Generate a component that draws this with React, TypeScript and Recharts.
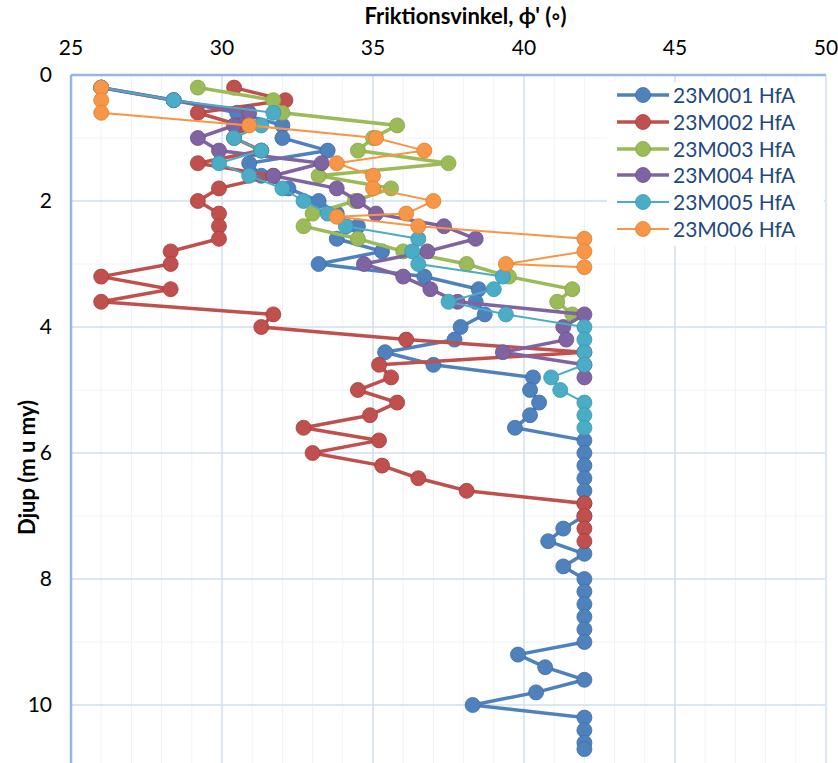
import { ScatterChart, Scatter, XAxis, YAxis, CartesianGrid, Legend, Label } from 'recharts';

const FONT = 'Lato, "Open Sans", sans-serif';

// depth (m u my) and friction angle per sounding
const depth001 = [0.2, 0.4, 0.6, 0.8, 1.0, 1.2, 1.4, 1.6, 1.8, 2.0, 2.2, 2.4, 2.6, 2.8, 3.0, 3.2, 3.4, 3.6, 3.8, 4.0, 4.2, 4.4, 4.6, 4.8, 5.0, 5.2, 5.4, 5.6, 5.8, 6.0, 6.2, 6.4, 6.6, 6.8, 7.0, 7.2, 7.4, 7.6, 7.8, 8.0, 8.2, 8.4, 8.6, 8.8, 9.0, 9.2, 9.4, 9.6, 9.8, 10.0, 10.2, 10.4, 10.6, 10.7];
const phi001 = [26, 28.4, 30.5, 32.0, 32.0, 33.5, 30.9, 31.3, 32.2, 33.2, 33.8, 34.5, 33.8, 35.3, 33.2, 36.7, 38.5, 38.4, 38.7, 37.9, 37.7, 35.4, 37.0, 40.3, 40.2, 40.5, 40.2, 39.7, 42, 42, 42, 42, 42, 42, 42, 41.3, 40.8, 42, 41.3, 42, 42, 42, 42, 42, 42, 39.8, 40.7, 42, 40.4, 38.3, 42, 42, 42, 42];

const depth002 = [0.2, 0.4, 0.6, 0.8, 1.0, 1.2, 1.4, 1.6, 1.8, 2.0, 2.2, 2.4, 2.6, 2.8, 3.0, 3.2, 3.4, 3.6, 3.8, 4.0, 4.2, 4.4, 4.6, 4.8, 5.0, 5.2, 5.4, 5.6, 5.8, 6.0, 6.2, 6.4, 6.6, 6.8, 7.0, 7.2, 7.4];
const phi002 = [30.4, 32.1, 29.2, 30.6, 30.4, 31.3, 29.2, 31.7, 29.9, 29.2, 29.9, 29.9, 29.9, 28.3, 28.3, 26, 28.3, 26, 31.7, 31.3, 36.1, 42, 35.2, 35.6, 34.5, 35.8, 34.9, 32.7, 35.2, 33.0, 35.3, 36.5, 38.1, 42, 42, 42, 42];

const depth003 = [0.2, 0.4, 0.6, 0.8, 1.0, 1.2, 1.4, 1.6, 1.8, 2.0, 2.2, 2.4, 2.6, 2.8, 3.0, 3.2, 3.4, 3.6, 3.8];
const phi003 = [29.2, 31.7, 32.0, 35.8, 35.0, 34.5, 37.5, 33.2, 35.6, 34.4, 33.0, 32.7, 34.5, 36.0, 38.1, 39.5, 41.6, 41.1, 41.6];

const depth004 = [0.2, 0.4, 0.6, 0.8, 1.0, 1.2, 1.4, 1.6, 1.8, 2.0, 2.2, 2.4, 2.6, 2.8, 3.0, 3.2, 3.4, 3.6, 3.8, 4.0, 4.2, 4.4, 4.6, 4.8];
const phi004 = [26, 28.4, 30.9, 30.4, 29.2, 29.9, 33.3, 31.7, 33.8, 34.5, 35.1, 37.35, 38.4, 36.8, 34.7, 36.0, 36.9, 37.8, 42, 41.3, 41.4, 39.3, 42, 42];

const depth005 = [0.2, 0.4, 0.6, 0.8, 1.0, 1.2, 1.4, 1.6, 1.8, 2.0, 2.2, 2.4, 2.6, 2.8, 3.0, 3.2, 3.4, 3.6, 3.8, 4.0, 4.2, 4.4, 4.6, 4.8, 5.0, 5.2, 5.4, 5.6];
const phi005 = [26, 28.4, 31.7, 31.3, 30.4, 31.3, 29.9, 30.9, 32.0, 32.7, 33.5, 34.1, 36.5, 36.3, 36.5, 39.3, 39.0, 37.5, 39.4, 42, 42, 42, 42, 40.9, 41.2, 42, 42, 42];

const depth006 = [0.2, 0.4, 0.6, 0.8, 1.0, 1.2, 1.4, 1.6, 1.8, 2.0, 2.2, 2.25, 2.4, 2.6, 2.8, 3.0, 3.05];
const phi006 = [26, 26, 26, 30.9, 35.1, 36.7, 33.8, 35.0, 35.0, 37.0, 36.1, 33.8, 36.5, 42, 42, 39.4, 42];

const xTicks = [25, 30, 35, 40, 45, 50];
const yTicks = [0, 2, 4, 6, 8, 10];
const xMinor = Array.from({ length: 26 }, (_, i) => 25 + i);
const yMinor = Array.from({ length: 12 }, (_, i) => i);

const SERIES = [
  { name: '23M001 HfA', color: '#4F81BD', edge: '#3D6DA8', width: 3.5, depth: depth001, phi: phi001 },
  { name: '23M002 HfA', color: '#C0504D', edge: '#A63E3B', width: 3.5, depth: depth002, phi: phi002 },
  { name: '23M003 HfA', color: '#9BBB59', edge: '#86A546', width: 3.5, depth: depth003, phi: phi003 },
  { name: '23M004 HfA', color: '#8064A2', edge: '#6C528D', width: 3.5, depth: depth004, phi: phi004 },
  { name: '23M005 HfA', color: '#4BACC6', edge: '#3A97B0', width: 2, depth: depth005, phi: phi005 },
  { name: '23M006 HfA', color: '#F79646', edge: '#E07F30', width: 2, depth: depth006, phi: phi006 },
];

const toPoints = (depth: number[], phi: number[]) => depth.map((d, i) => ({ d, phi: phi[i] }));

const marker = (color: string, edge: string) => (props: any) => (
  <circle cx={props.cx} cy={props.cy} r={7.5} fill={color} stroke={edge} strokeWidth={0.8} />
);

function LegendBox() {
  return (
    <div style={{ background: '#fff', padding: '0 0 4px 8px', fontFamily: FONT }}>
      {SERIES.map((s) => (
        <div key={s.name} style={{ display: 'flex', alignItems: 'center', height: 26.7 }}>
          <svg width={56} height={20}>
            <line x1={2} y1={10} x2={54} y2={10} stroke={s.color} strokeWidth={s.width} />
            <circle cx={28} cy={10} r={7.5} fill={s.color} stroke={s.edge} strokeWidth={0.8} />
          </svg>
          <span style={{ marginLeft: 2, fontSize: 21, color: '#1F497D', lineHeight: '26px' }}>{s.name}</span>
        </div>
      ))}
    </div>
  );
}

export default function App() {
  return (
    <div style={{ position: 'absolute', left: 0, top: 0, width: 838, height: 763, overflow: 'hidden', background: '#fff' }}>
      <ScatterChart width={838} height={770} margin={{ top: 0, right: 12, bottom: 2, left: 0 }}>
        <XAxis xAxisId="minor" type="number" dataKey="phi" domain={[25, 50]} ticks={xMinor} hide orientation="top" allowDataOverflow />
        <YAxis yAxisId="minor" type="number" dataKey="d" domain={[0, 11]} ticks={yMinor} hide reversed allowDataOverflow />
        <CartesianGrid xAxisId="minor" yAxisId="minor" stroke="#EEF3F9" strokeWidth={1} />
        <CartesianGrid stroke="#D5E1F0" strokeWidth={1.5} />
        <XAxis
          type="number"
          dataKey="phi"
          orientation="top"
          domain={[25, 50]}
          ticks={xTicks}
          interval={0}
          height={75}
          allowDataOverflow
          axisLine={{ stroke: '#95B7E2', strokeWidth: 2.5 }}
          tickLine={false}
          tickSize={0}
          tickMargin={20}
          tick={{ fontSize: 21, fill: '#000', fontFamily: FONT }}
        >
          <Label
            value="Friktionsvinkel, ϕ' (◦)"
            position="insideTop"
            offset={8}
            dx={17}
            style={{ fontWeight: 700, fontSize: 22, fill: '#000', fontFamily: FONT }}
          />
        </XAxis>
        <YAxis
          type="number"
          dataKey="d"
          reversed
          domain={[0, 11]}
          ticks={yTicks}
          interval={0}
          width={71}
          allowDataOverflow
          axisLine={{ stroke: '#95B7E2', strokeWidth: 2.5 }}
          tickLine={false}
          tickSize={0}
          tickMargin={19}
          tick={{ fontSize: 21, fill: '#000', fontFamily: FONT }}
        >
          <Label
            value="Djup (m u my)"
            position="center"
            angle={-90}
            dx={-8}
            dy={46}
            style={{ fontWeight: 700, fontSize: 22, fill: '#000', fontFamily: FONT }}
          />
        </YAxis>
        <Legend
          layout="vertical"
          align="center"
          verticalAlign="middle"
          content={() => <LegendBox />}
          wrapperStyle={{ left: 607, top: 82, width: 217 }}
        />
        {SERIES.map((s) => (
          <Scatter
            key={s.name}
            name={s.name}
            data={toPoints(s.depth, s.phi)}
            fill={s.color}
            line={{ stroke: s.color, strokeWidth: s.width }}
            lineType="joint"
            shape={marker(s.color, s.edge)}
            isAnimationActive={false}
          />
        ))}
      </ScatterChart>
    </div>
  );
}
